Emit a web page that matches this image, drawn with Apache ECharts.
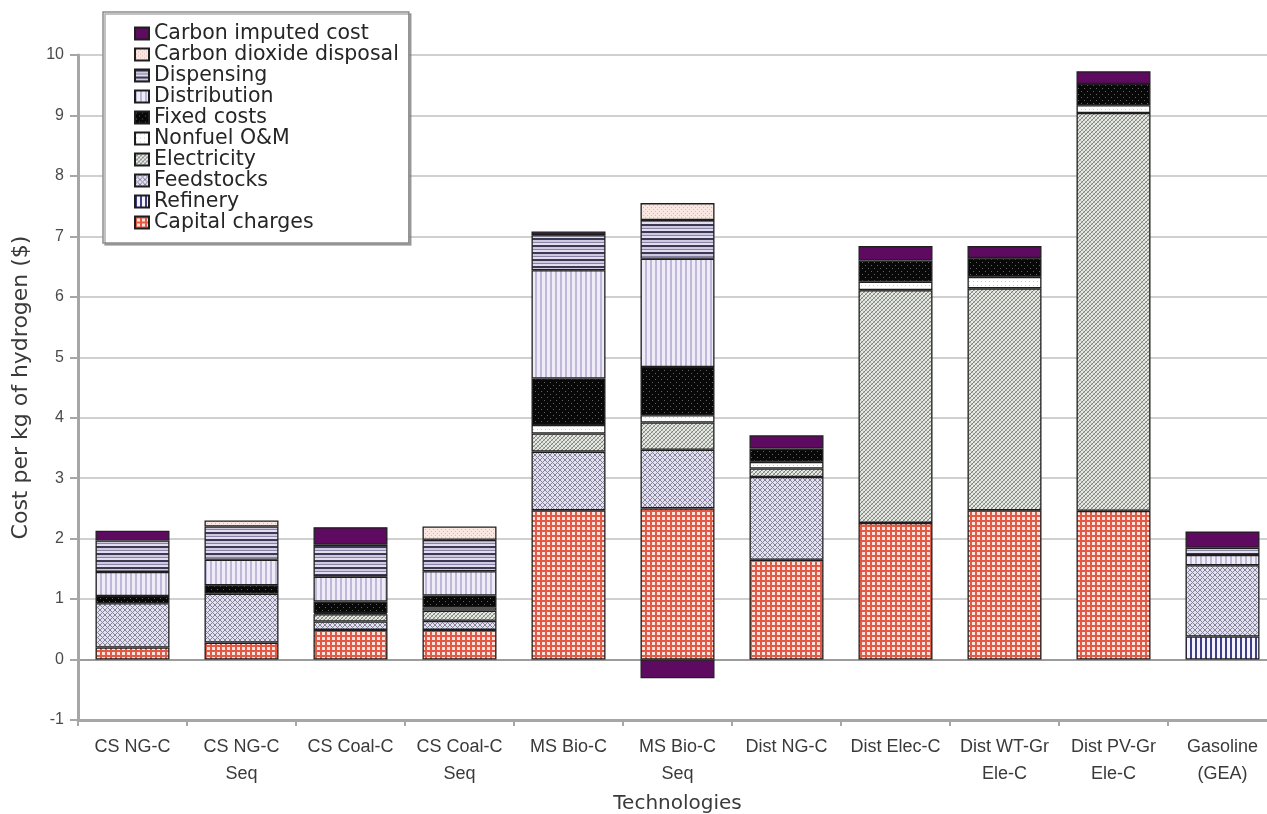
<!DOCTYPE html>
<html>
<head>
<meta charset="utf-8">
<title>Hydrogen cost by technology</title>
<script src="https://cdn.jsdelivr.net/npm/echarts@6/dist/echarts.min.js"></script>
<style>
  html, body { margin: 0; padding: 0; background: #ffffff; }
  #chart { width: 1267px; height: 814px; }
</style>
</head>
<body>
<div id="chart"></div>
<script>
// Technologies on the x axis
const categories = ['CS NG-C', 'CS NG-C\nSeq', 'CS Coal-C', 'CS Coal-C\nSeq', 'MS Bio-C', 'MS Bio-C\nSeq',
  'Dist NG-C', 'Dist Elec-C', 'Dist WT-Gr\nEle-C', 'Dist PV-Gr\nEle-C', 'Gasoline\n(GEA)'];

// Cost components, $ per kg of hydrogen (null = component not present)
const capitalCharges = [0.20, 0.28, 0.49, 0.49, 2.47, 2.50, 1.65, 2.26, 2.47, 2.46, null];
const refinery       = [null, null, null, null, null, null, null, null, null, null, 0.38];
const feedstocks     = [0.73, 0.81, 0.14, 0.15, 0.97, 0.97, 1.37, null, null, null, 1.18];
const electricity    = [null, null, 0.12, 0.17, 0.30, 0.45, 0.14, 3.85, 3.67, 6.58, null];
const nonfuelOM      = [null, null, 0.02, 0.05, 0.14, 0.12, 0.11, 0.14, 0.19, 0.13, null];
const fixedCosts     = [0.12, 0.14, 0.19, 0.20, 0.77, 0.80, 0.22, 0.35, 0.31, 0.35, null];
const distribution   = [0.40, 0.42, 0.41, 0.40, 1.79, 1.79, null, null, null, null, 0.17];
const dispensing     = [0.52, 0.55, 0.53, 0.52, 0.58, 0.64, null, null, null, null, 0.12];
const co2Disposal    = [null, 0.10, null, 0.22, null, 0.28, null, null, null, null, null];
const carbonImputed  = [0.16, null, 0.29, null, 0.06, -0.31, 0.22, 0.24, 0.20, 0.21, 0.27];

// Y axis range
const yMin = -1, yMax = 10, yStep = 1;

// Small repeating tiles used as hatch fills
function tile(w, h, bg, draw) {
  const c = document.createElement('canvas');
  c.width = w; c.height = h;
  const g = c.getContext('2d');
  g.fillStyle = bg;
  g.fillRect(0, 0, w, h);
  if (draw) draw(g);
  return { image: c, repeat: 'repeat' };
}

const fills = {
  capital: tile(5, 5, '#fde4de', g => {
    g.fillStyle = '#e25a46';
    g.fillRect(0, 0, 5, 2);
    g.fillRect(0, 0, 2, 5);
  }),
  refinery: tile(5, 5, '#f4f3ff', g => {
    g.fillStyle = '#3c3f86';
    g.fillRect(0, 0, 2, 5);
  }),
  feedstocks: tile(5, 5, '#e3e1f0', g => {
    g.fillStyle = '#85839c';
    for (let i = 0; i < 5; i++) { g.fillRect(i, i, 1, 1); g.fillRect(4 - i, i, 1, 1); }
  }),
  electricity: tile(4, 4, '#e7eae5', g => {
    for (let i = 0; i < 4; i++) {
      g.fillStyle = '#7d847d'; g.fillRect(i, 3 - i, 1, 1);
      g.fillStyle = '#b4b9b2'; g.fillRect(i, i, 1, 1);
    }
  }),
  nonfuel: tile(4, 4, '#ffffff', g => {
    g.fillStyle = '#c9c9cf';
    g.fillRect(1, 1, 1, 1);
  }),
  fixed: tile(6, 6, '#080808', g => {
    g.fillStyle = '#646464';
    g.fillRect(1, 1, 1, 1);
    g.fillRect(4, 4, 1, 1);
  }),
  distribution: tile(5, 5, '#f0ecf7', g => {
    g.fillStyle = '#c0b8d8';
    g.fillRect(0, 0, 2, 5);
  }),
  dispensing: tile(4, 7, '#e2ddef', g => {
    g.fillStyle = '#3b3954'; g.fillRect(0, 0, 4, 2);
    g.fillStyle = '#cfc8e0'; g.fillRect(0, 2, 4, 2);
    g.fillStyle = '#8a84a4'; g.fillRect(0, 4, 4, 1);
  }),
  co2: tile(4, 4, '#fbe7e2', g => {
    g.fillStyle = '#e3b5ac';
    g.fillRect(1, 1, 1, 1);
    g.fillRect(3, 3, 1, 1);
  }),
  carbon: '#5e0a60'
};

// Stack order, bottom to top
const stackSeries = [
  ['Capital charges', capitalCharges, fills.capital],
  ['Refinery', refinery, fills.refinery],
  ['Feedstocks', feedstocks, fills.feedstocks],
  ['Electricity', electricity, fills.electricity],
  ['Nonfuel O&M', nonfuelOM, fills.nonfuel],
  ['Fixed costs', fixedCosts, fills.fixed],
  ['Distribution', distribution, fills.distribution],
  ['Dispensing', dispensing, fills.dispensing],
  ['Carbon dioxide disposal', co2Disposal, fills.co2],
  ['Carbon imputed cost', carbonImputed, fills.carbon]
];

const series = stackSeries.map(([name, values, fill]) => ({
  name: name,
  type: 'bar',
  stack: 'cost',
  barWidth: 74,
  data: values.map(v => (v === null ? '-' : v)),
  itemStyle: { color: fill, borderColor: '#1e1e1e', borderWidth: 1.3 },
  emphasis: { disabled: true }
}));

// Split lines: the zero line is drawn darker than the rest
const tickValues = [];
for (let v = yMin; v <= yMax; v += yStep) tickValues.push(v);
const gridColors = tickValues.map(v => (v === 0 ? '#9c9c9c' : '#d0d0d0'));

const chart = echarts.init(document.getElementById('chart'), null, { renderer: 'canvas' });
chart.setOption({
  animation: false,
  backgroundColor: '#ffffff',
  grid: { left: 78, top: 55, width: 1199, height: 665, containLabel: false, outerBoundsMode: 'none' },
  legend: {
    orient: 'vertical',
    left: 103,
    top: 12,
    padding: [11, 10, 10, 31],
    itemGap: 0,
    itemWidth: 14,
    itemHeight: 12,
    icon: 'rect',
    backgroundColor: '#ffffff',
    borderColor: '#8c8c8c',
    borderWidth: 1.5,
    shadowColor: 'rgba(120,120,120,0.6)',
    shadowBlur: 0,
    shadowOffsetX: 2,
    shadowOffsetY: 2,
    selectedMode: false,
    data: stackSeries.map(s => s[0]).reverse(),
    textStyle: { fontFamily: 'DejaVu Sans', fontSize: 20.5, lineHeight: 21, color: '#262626' }
  },
  xAxis: {
    type: 'category',
    data: categories,
    name: 'Technologies',
    nameLocation: 'middle',
    nameGap: 74,
    nameTextStyle: { fontFamily: 'DejaVu Sans', fontSize: 20, color: '#3a3a3a' },
    axisLine: { onZero: false, lineStyle: { color: '#a6a6a6', width: 3 } },
    axisTick: { show: true, length: 6, lineStyle: { color: '#a6a6a6', width: 2 } },
    axisLabel: {
      interval: 0,
      margin: 14,
      fontFamily: 'Liberation Sans',
      fontSize: 18,
      lineHeight: 27,
      color: '#3a3a3a'
    },
    splitLine: { show: false }
  },
  yAxis: {
    type: 'value',
    min: yMin,
    max: yMax,
    interval: yStep,
    name: 'Cost per kg of hydrogen ($)',
    nameLocation: 'middle',
    nameGap: 46,
    nameTextStyle: { fontFamily: 'DejaVu Sans', fontSize: 22, color: '#3a3a3a' },
    axisLine: { show: true, lineStyle: { color: '#a6a6a6', width: 3 } },
    axisTick: { show: true, length: 8, lineStyle: { color: '#a6a6a6', width: 2 } },
    axisLabel: { margin: 14, fontFamily: 'Liberation Sans', fontSize: 16, color: '#4a4a4a' },
    splitLine: { show: true, lineStyle: { color: gridColors, width: 2 } }
  },
  series: series
});
</script>
</body>
</html>
